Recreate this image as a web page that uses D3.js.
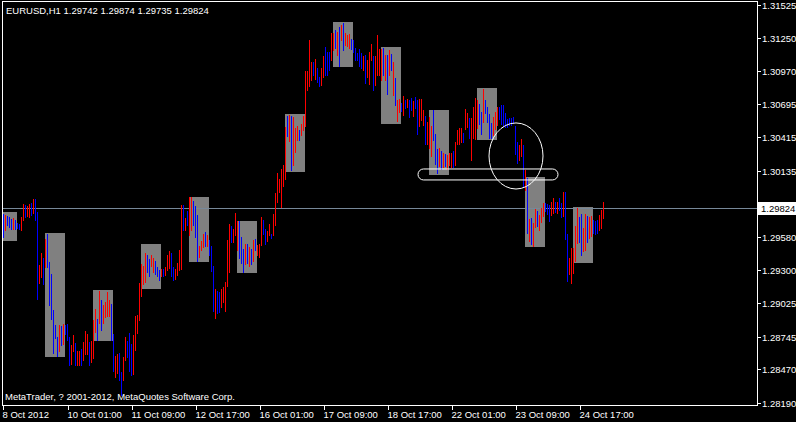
<!DOCTYPE html>
<html><head><meta charset="utf-8">
<script src="https://cdn.jsdelivr.net/npm/d3@7/dist/d3.min.js"></script>
<style>html,body{margin:0;padding:0;background:#000;overflow:hidden}svg{display:block}</style>
</head><body>
<script>
// ---------- DATA ----------
const titleText = "EURUSD,H1  1.29742 1.29874 1.29735 1.29824";
const copyrightText = "MetaTrader, ? 2001-2012, MetaQuotes Software Corp.";
const firstBarTime = "2012-10-08T17:00";
const lastPrice = 1.29824;

const highs = [
1.29772,1.29764,1.29756,1.29747,1.29730,1.29739,1.29722,1.29697,1.29689,1.29747,
1.29856,1.29848,1.29840,1.29856,1.29865,1.29898,1.29898,1.29789,1.29345,1.29445,
1.29403,1.29563,1.29605,1.29370,1.29269,1.28967,1.28842,1.28741,1.28842,1.28833,
1.28850,1.28842,1.28850,1.28741,1.28674,1.28758,1.28691,1.28624,1.28624,1.28640,
1.28699,1.28791,1.28766,1.28699,1.28707,1.28884,1.28976,1.28892,1.29127,1.29051,
1.29009,1.29034,1.29118,1.29051,1.29018,1.28766,1.28582,1.28598,1.28607,1.28447,
1.28573,1.28741,1.28707,1.28774,1.28682,1.28758,1.28917,1.28925,1.29194,1.29353,
1.29336,1.29445,1.29429,1.29395,1.29429,1.29403,1.29378,1.29328,1.29303,1.29311,
1.29311,1.29328,1.29429,1.29462,1.29445,1.29328,1.29311,1.29361,1.29471,1.29848,
1.29848,1.29739,1.29798,1.29915,1.29915,1.29881,1.29840,1.29764,1.29504,1.29546,
1.29605,1.29621,1.29596,1.29554,1.29504,1.29336,1.29144,1.29127,1.29118,1.29144,
1.29160,1.29202,1.29554,1.29689,1.29672,1.29647,1.29781,1.29714,1.29714,1.29580,
1.29479,1.29521,1.29521,1.29496,1.29479,1.29554,1.29563,1.29512,1.29521,1.29747,
1.29722,1.29647,1.29630,1.29689,1.29605,1.29772,1.29949,1.30116,1.30066,1.30150,
1.30183,1.30502,1.30594,1.30603,1.30594,1.30586,1.30494,1.30510,1.30477,1.30527,
1.30594,1.30972,1.30972,1.31232,1.31047,1.31047,1.31072,1.30997,1.30921,1.30997,
1.31097,1.31173,1.31131,1.31131,1.31290,1.31290,1.31315,1.31299,1.31341,1.31358,
1.31375,1.31290,1.31274,1.31282,1.31240,1.31232,1.31164,1.31123,1.31156,1.31123,
1.31097,1.31106,1.31064,1.31131,1.31198,1.31097,1.31097,1.31274,1.31156,1.31156,
1.31164,1.31106,1.31106,1.31148,1.31114,1.31047,1.30913,1.30728,1.30737,1.30703,
1.30762,1.30728,1.30737,1.30728,1.30745,1.30720,1.30754,1.30728,1.30737,1.30737,
1.30645,1.30594,1.30544,1.30586,1.30510,1.30645,1.30443,1.30318,1.30326,1.30301,
1.30284,1.30276,1.30267,1.30284,1.30284,1.30301,1.30376,1.30477,1.30494,1.30494,
1.30452,1.30653,1.30619,1.30577,1.30577,1.30670,1.30745,1.30728,1.30695,1.30628,
1.30821,1.30728,1.30670,1.30611,1.30536,1.30586,1.30628,1.30670,1.30670,1.30687,
1.30687,1.30619,1.30569,1.30577,1.30577,1.30586,1.30510,1.30376,1.30351,1.30402,
1.30351,1.30141,1.30074,1.29730,1.29739,1.29697,1.29814,1.29798,1.29764,1.29823,
1.29865,1.29865,1.29856,1.29848,1.29873,1.29907,1.29873,1.29873,1.29907,1.29865,
1.29957,1.29957,1.29605,1.29403,1.29487,1.29487,1.29672,1.29823,1.29747,1.29772,
1.29655,1.29772,1.29756,1.29747,1.29756,1.29722,1.29714,1.29722,1.29764,1.29806,
1.29874];

const lows = [
1.29580,1.29638,1.29680,1.29663,1.29647,1.29647,1.29647,1.29655,1.29647,1.29638,
1.29722,1.29747,1.29756,1.29747,1.29764,1.29781,1.29722,1.29060,1.29194,1.29244,
1.29185,1.29328,1.29328,1.29009,1.28892,1.28607,1.28733,1.28582,1.28624,1.28674,
1.28682,1.28766,1.28716,1.28506,1.28515,1.28624,1.28506,1.28506,1.28506,1.28506,
1.28548,1.28598,1.28598,1.28506,1.28531,1.28565,1.28783,1.28716,1.28858,1.28800,
1.28858,1.28909,1.28917,1.28917,1.28716,1.28456,1.28406,1.28439,1.28380,1.28255,
1.28380,1.28548,1.28573,1.28456,1.28422,1.28431,1.28632,1.28774,1.28884,1.29085,
1.29185,1.29202,1.29286,1.29253,1.29336,1.29286,1.29269,1.29253,1.29219,1.29253,
1.29253,1.29261,1.29303,1.29320,1.29253,1.29219,1.29227,1.29261,1.29303,1.29311,
1.29638,1.29638,1.29680,1.29596,1.29638,1.29680,1.29580,1.29378,1.29412,1.29471,
1.29496,1.29504,1.29504,1.29429,1.29294,1.28959,1.28900,1.28942,1.28951,1.28992,
1.29034,1.28959,1.29169,1.29286,1.29538,1.29538,1.29596,1.29471,1.29403,1.29361,
1.29286,1.29353,1.29361,1.29336,1.29353,1.29378,1.29471,1.29429,1.29412,1.29512,
1.29605,1.29521,1.29546,1.29596,1.29571,1.29596,1.29680,1.29873,1.29957,1.29831,
1.30007,1.30066,1.30427,1.30385,1.30141,1.30183,1.30292,1.30393,1.30393,1.30435,
1.30477,1.30510,1.30812,1.30846,1.30896,1.30938,1.30905,1.30879,1.30846,1.30854,
1.30921,1.30938,1.30938,1.30980,1.31064,1.31148,1.31164,1.31106,1.31014,1.31232,
1.31148,1.31190,1.31181,1.31164,1.31156,1.31131,1.31064,1.31064,1.31014,1.30997,
1.30980,1.30871,1.30921,1.30863,1.31064,1.30812,1.30854,1.30938,1.30938,1.30896,
1.30938,1.30896,1.30779,1.30938,1.30980,1.30770,1.30687,1.30552,1.30628,1.30636,
1.30603,1.30661,1.30670,1.30586,1.30645,1.30594,1.30661,1.30443,1.30510,1.30561,
1.30519,1.30360,1.30360,1.30326,1.30259,1.30393,1.30192,1.30116,1.30175,1.30150,
1.30167,1.30175,1.30150,1.30183,1.30167,1.30167,1.30183,1.30360,1.30360,1.30376,
1.30376,1.30485,1.30502,1.30410,1.30225,1.30410,1.30402,1.30494,1.30527,1.30443,
1.30544,1.30619,1.30544,1.30410,1.30410,1.30435,1.30485,1.30519,1.30569,1.30527,
1.30510,1.30502,1.30502,1.30519,1.30519,1.30536,1.30276,1.30200,1.30225,1.30259,
1.30007,1.29974,1.29613,1.29546,1.29521,1.29504,1.29663,1.29672,1.29638,1.29705,
1.29756,1.29798,1.29772,1.29714,1.29764,1.29781,1.29789,1.29781,1.29806,1.29747,
1.29756,1.29563,1.29211,1.29269,1.29194,1.29278,1.29378,1.29529,1.29538,1.29429,
1.29462,1.29471,1.29538,1.29571,1.29588,1.29613,1.29605,1.29613,1.29638,1.29655,
1.29735];

// U = bullish bar (red), D = bearish bar (blue)
const barDirs =
"DUDDDUDDDU"+"UDUUDUDDUU"+"DUDDDDDDUD"+"UDDDUUDUUD"+"UUUDUUUDUD"+
"UUUUDDUUDD"+"UUDDDUUUUU"+"UUDDUUDDDU"+"DUUUDDUUUU"+"DUDUUDDDUU"+
"UDUDDDUDDU"+"UUUUDUUUDD"+"DUDUDUDUUU"+"DDUUDUUUUU"+"UUDUDUUUDU"+
"UUUUUDUDDU"+"UDDDUUDUDU"+"DUUUDDDDDD"+"UDUUUDUUUU"+"DUDUDUDUUD"+
"UDUDDUDDUU"+"UDUUUDDDUD"+"UDUUUDUUUU"+"DUUDUUUUDD"+"UDDDDUUUDD"+
"DDDDDDDDUU"+"DUDUDUUDUU"+"UDDDUUDUDD"+"UDDUUUUUDD"+"UUDUUDDDUU"+"U";

// daily session boxes (14:00 - 23:00)
const boxDays  = ["2012-10-08","2012-10-09","2012-10-10","2012-10-11","2012-10-12","2012-10-15","2012-10-16",
                  "2012-10-17","2012-10-18","2012-10-19","2012-10-22","2012-10-23","2012-10-24"];
const boxHighs = [1.29789,1.29613,1.29135,1.29521,1.29915,1.29714,1.30611,1.31383,1.31173,1.30645,1.30829,1.30083,1.29831];
const boxLows  = [1.29554,1.28582,1.28716,1.29152,1.29378,1.29286,1.30133,1.31014,1.30536,1.30108,1.30402,1.29504,1.29370];
const sessionStartHour = 14, sessionEndHour = 23;

const priceTickLabels = ["1.31525","1.31250","1.30970","1.30695","1.30415","1.30135","1.29860",
                         "1.29580","1.29300","1.29025","1.28745","1.28470","1.28190"];
const timeTickLabels = ["8 Oct 2012","10 Oct 01:00","11 Oct 09:00","12 Oct 17:00","16 Oct 01:00",
                        "17 Oct 09:00","18 Oct 17:00","22 Oct 01:00","23 Oct 09:00","24 Oct 17:00"];
const timeTickStep = 32; // bars between time labels

// drawn objects: ellipse and rounded rectangle (bar index / price anchors)
const ellipseObj = {bar1: 243, bar2: 270, price1: 1.30536, price2: 1.29982};
const capsuleObj = {bar1: 207.5, bar2: 277.5, price1: 1.30150, price2: 1.30058};

// ---------- BUILD ----------
const W = 796, H = 422;
const frame = {left: 2, top: 1, right: 757, bottom: 405};
const FONT = "'Liberation Sans', Arial, sans-serif";
const FS = 9.5;

// bar times (hourly, skipping weekends)
const times = [];
{
  let t = new Date(firstBarTime);
  while (times.length < highs.length) {
    const d = t.getDay();
    if (d !== 0 && d !== 6) times.push(new Date(t));
    t = new Date(t.getTime() + 3600000);
  }
}
function barIndexOf(date) {
  const t0 = times[0].getTime(), tt = date.getTime();
  if (tt < t0) return (tt - t0) / 3600000;
  return times.findIndex(d => d.getTime() >= tt);
}

const x = d3.scaleLinear().domain([0, 1]).range([3, 5]);
const y = d3.scaleLinear().domain([1.28190, 1.31525]).range([402.7, 5]);
const yLast = Math.round(y(lastPrice)) + 0.5;

const svg = d3.select("body").append("svg").attr("width", W).attr("height", H)
  .style("font-family", FONT).style("font-size", FS + "px");
svg.append("rect").attr("width", W).attr("height", H).attr("fill", "#000");

const defs = svg.append("defs");
defs.append("clipPath").attr("id", "plotClip").append("rect")
  .attr("x", frame.left + 1).attr("y", frame.top + 1)
  .attr("width", frame.right - frame.left - 1).attr("height", frame.bottom - frame.top - 1);
// part of the axis strip not covered by the last-price label
defs.append("clipPath").attr("id", "aboveLast").append("rect")
  .attr("x", frame.right).attr("y", 0).attr("width", W - frame.right).attr("height", yLast - 6.5);
const plot = svg.append("g").attr("clip-path", "url(#plotClip)");

// boxes
const boxes = boxDays.map((d, k) => {
  const s = barIndexOf(new Date(d + "T" + String(sessionStartHour).padStart(2, "0") + ":00"));
  const e = barIndexOf(new Date(d + "T" + String(sessionEndHour).padStart(2, "0") + ":00"));
  return {s, e, hi: boxHighs[k], lo: boxLows[k]};
});
plot.append("g").selectAll("rect").data(boxes).join("rect")
  .attr("x", b => x(b.s)).attr("width", b => x(b.e) + 2 - x(b.s))
  .attr("y", b => Math.round(y(b.hi))).attr("height", b => Math.round(y(b.lo)) - Math.round(y(b.hi)) + 1)
  .attr("fill", "#808080").attr("shape-rendering", "crispEdges");

// bid line
plot.append("line").attr("x1", frame.left).attr("x2", frame.right).attr("y1", yLast).attr("y2", yLast)
  .attr("stroke", "#778899").attr("stroke-width", 1).attr("shape-rendering", "crispEdges");

// bars
const bars = highs.map((h, i) => ({i, h, l: lows[i], up: barDirs[i] === "U"}));
plot.append("g").selectAll("rect").data(bars).join("rect")
  .attr("x", d => x(d.i)).attr("width", 1)
  .attr("y", d => Math.round(y(d.h)))
  .attr("height", d => Math.max(1, Math.round(y(d.l)) - Math.round(y(d.h)) + 1))
  .attr("fill", d => d.up ? "#ff0000" : "#0000ff").attr("shape-rendering", "crispEdges");

// objects
const ex1 = x(ellipseObj.bar1), ex2 = x(ellipseObj.bar2);
const ey1 = y(ellipseObj.price1), ey2 = y(ellipseObj.price2);
plot.append("ellipse").attr("cx", (ex1 + ex2) / 2).attr("cy", (ey1 + ey2) / 2)
  .attr("rx", (ex2 - ex1) / 2).attr("ry", (ey2 - ey1) / 2)
  .attr("fill", "none").attr("stroke", "#fff").attr("stroke-width", 1);
const cx1 = x(capsuleObj.bar1), cx2 = x(capsuleObj.bar2);
const cy1 = y(capsuleObj.price1), cy2 = y(capsuleObj.price2);
plot.append("rect").attr("x", cx1).attr("y", cy1).attr("width", cx2 - cx1).attr("height", cy2 - cy1)
  .attr("rx", (cy2 - cy1) / 2).attr("ry", (cy2 - cy1) / 2)
  .attr("fill", "none").attr("stroke", "#fff").attr("stroke-width", 1);

// frame
svg.append("rect").attr("x", frame.left + 0.5).attr("y", frame.top + 0.5)
  .attr("width", frame.right - frame.left).attr("height", frame.bottom - frame.top)
  .attr("fill", "none").attr("stroke", "#fff").attr("shape-rendering", "crispEdges");

// price axis
const pa = svg.append("g");
priceTickLabels.forEach(v => {
  const yy = Math.round(y(+v)) + 0.5;
  const hidden = Math.abs(yy - yLast) < 13;
  pa.append("line").attr("x1", frame.right + 0.5).attr("x2", frame.right + 4).attr("y1", yy).attr("y2", yy)
    .attr("stroke", "#fff").attr("shape-rendering", "crispEdges");
  const t = pa.append("text").attr("x", frame.right + 5).attr("y", yy + 3.5).attr("fill", "#fff").text(v);
  if (hidden) t.attr("clip-path", "url(#aboveLast)");
});
// last price label
pa.append("rect").attr("x", frame.right + 1).attr("y", yLast - 6.5).attr("width", W - frame.right - 1).attr("height", 13)
  .attr("fill", "#fff");
pa.append("text").attr("x", frame.right + 4).attr("y", yLast + 3.5).attr("fill", "#000").text(lastPrice.toFixed(5));

// time axis
const ta = svg.append("g");
timeTickLabels.forEach((lab, j) => {
  const tx = Math.round(x(j * timeTickStep)) + (j === 0 ? 0 : 1) + 0.5;
  ta.append("line").attr("x1", tx).attr("x2", tx).attr("y1", frame.bottom).attr("y2", frame.bottom + 4.5)
    .attr("stroke", "#fff").attr("shape-rendering", "crispEdges");
  ta.append("text").attr("x", tx - 1).attr("y", 418).attr("fill", "#fff").text(lab);
});

// texts
svg.append("text").attr("x", 6).attr("y", 14).attr("fill", "#fff").text(titleText);
svg.append("text").attr("x", 5).attr("y", 400).attr("fill", "#fff").text(copyrightText);
</script>
</body></html>
